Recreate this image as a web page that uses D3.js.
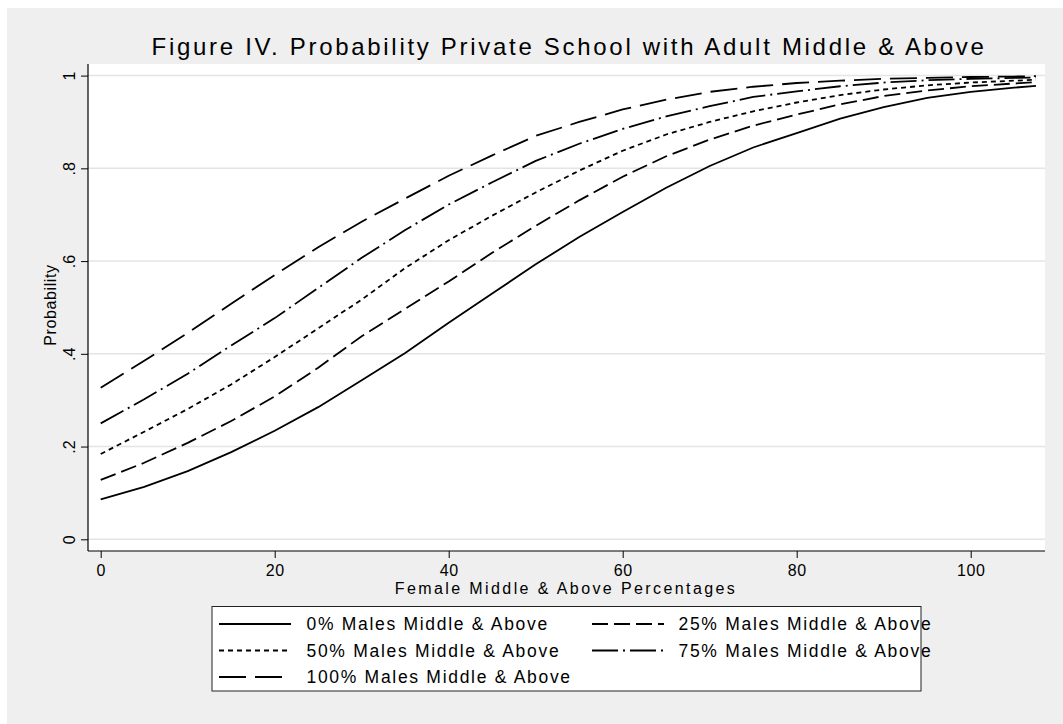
<!DOCTYPE html>
<html>
<head>
<meta charset="utf-8">
<script src="https://cdn.jsdelivr.net/npm/d3@7"></script>
<style>
  html, body { margin: 0; padding: 0; background: #ffffff; }
  svg { display: block; }
  text { font-family: "Liberation Sans", Arial, Helvetica, sans-serif; fill: #000; }
</style>
</head>
<body>
<svg id="chart" width="1063" height="724"></svg>
<script>
// Female middle & above percentage at which predictions were evaluated
const femalePct = [0, 5, 10, 15, 20, 25, 30, 35, 40, 45, 50, 55, 60, 65, 70, 75, 80, 85, 90, 95, 100, 105, 107.5];

// Predicted probability of private school, by share of males middle & above
const males0   = [0.086, 0.113, 0.147, 0.188, 0.234, 0.285, 0.343, 0.402, 0.467, 0.530, 0.593, 0.652, 0.706, 0.758, 0.805, 0.845, 0.876, 0.907, 0.932, 0.952, 0.965, 0.974, 0.978];
const males25  = [0.128, 0.165, 0.208, 0.255, 0.308, 0.370, 0.438, 0.497, 0.556, 0.618, 0.676, 0.731, 0.782, 0.826, 0.862, 0.892, 0.916, 0.938, 0.956, 0.968, 0.977, 0.983, 0.986];
const males50  = [0.184, 0.232, 0.281, 0.334, 0.393, 0.455, 0.517, 0.585, 0.645, 0.698, 0.748, 0.795, 0.838, 0.873, 0.900, 0.923, 0.942, 0.958, 0.970, 0.979, 0.985, 0.989, 0.991];
const males75  = [0.250, 0.302, 0.357, 0.418, 0.477, 0.542, 0.607, 0.667, 0.722, 0.770, 0.816, 0.853, 0.885, 0.912, 0.934, 0.954, 0.966, 0.977, 0.985, 0.990, 0.993, 0.995, 0.996];
const males100 = [0.327, 0.385, 0.445, 0.508, 0.570, 0.630, 0.685, 0.735, 0.784, 0.828, 0.870, 0.900, 0.927, 0.948, 0.965, 0.976, 0.984, 0.989, 0.993, 0.995, 0.997, 0.998, 0.999];

const seriesNames = ["0% Males Middle & Above", "25% Males Middle & Above", "50% Males Middle & Above",
                     "75% Males Middle & Above", "100% Males Middle & Above"];
const seriesValues = [males0, males25, males50, males75, males100];
const seriesDash = [null, "16,6", "5,4", "26,5,2,5", "27,9"];

const xTicks = [0, 20, 40, 60, 80, 100];
const yTicks = [0, 0.2, 0.4, 0.6, 0.8, 1];
const yTickLabels = ["0", ".2", ".4", ".6", ".8", "1"];

const titleText = "Figure IV. Probability Private School with Adult Middle & Above";
const xTitle = "Female Middle & Above Percentages";
const yTitle = "Probability";

const svg = d3.select("#chart");

// graph background
svg.append("rect").attr("x", 7).attr("y", 8).attr("width", 1056).attr("height", 716).attr("fill", "#efefef");

// plot region
const plot = { left: 88, right: 1045, top: 64, bottom: 551 };
svg.append("rect")
  .attr("x", plot.left).attr("y", plot.top)
  .attr("width", plot.right - plot.left).attr("height", plot.bottom - plot.top)
  .attr("fill", "#ffffff");

const x = d3.scaleLinear().domain([0, 100]).range([100.7, 970.7]);
const y = d3.scaleLinear().domain([0, 1]).range([539.3, 75.6]);

// horizontal grid
svg.append("g").selectAll("line").data(yTicks).join("line")
  .attr("x1", plot.left).attr("x2", plot.right)
  .attr("y1", d => y(d)).attr("y2", d => y(d))
  .attr("stroke", "#e4e4e4").attr("stroke-width", 1.5);

// y axis, labels turned to read upward
const yAxis = svg.append("g").attr("transform", `translate(${plot.left},0)`)
  .call(d3.axisLeft(y).tickValues(yTicks).tickSize(7).tickPadding(8)
    .tickFormat((d, i) => yTickLabels[i]));
yAxis.select(".domain").remove();
yAxis.selectAll(".tick line").attr("stroke", "#000");
yAxis.selectAll(".tick text")
  .attr("font-size", 16)
  .attr("transform", "rotate(-90)")
  .attr("x", 0).attr("y", -13).attr("dy", null)
  .attr("text-anchor", "middle");
svg.append("line").attr("x1", plot.left).attr("x2", plot.left)
  .attr("y1", plot.top).attr("y2", plot.bottom).attr("stroke", "#000").attr("stroke-width", 1.2);

// x axis
const xAxis = svg.append("g").attr("transform", `translate(0,${plot.bottom})`)
  .call(d3.axisBottom(x).tickValues(xTicks).tickSize(7).tickPadding(7).tickFormat(d3.format("d")));
xAxis.select(".domain").remove();
xAxis.selectAll(".tick line").attr("stroke", "#000");
xAxis.selectAll(".tick text").attr("font-size", 16).attr("letter-spacing", 0.5);
svg.append("line").attr("x1", plot.left).attr("x2", plot.right)
  .attr("y1", plot.bottom).attr("y2", plot.bottom).attr("stroke", "#000").attr("stroke-width", 1.2);

// curves
const line = d3.line().x((d, i) => x(femalePct[i])).y(d => y(d));
svg.append("g").selectAll("path").data(seriesValues).join("path")
  .attr("d", d => line(d))
  .attr("fill", "none")
  .attr("stroke", "#000")
  .attr("stroke-width", 1.8)
  .attr("stroke-dasharray", (d, i) => seriesDash[i]);

// titles
svg.append("text").attr("x", 569).attr("y", 55).attr("text-anchor", "middle")
  .attr("font-size", 24).attr("letter-spacing", 2.7).text(titleText);
svg.append("text").attr("x", 566).attr("y", 594).attr("text-anchor", "middle")
  .attr("font-size", 16).attr("letter-spacing", 2.4).text(xTitle);
svg.append("text").attr("transform", "translate(56,305) rotate(-90)").attr("text-anchor", "middle")
  .attr("font-size", 16).attr("letter-spacing", 0.6).text(yTitle);

// legend
const legend = svg.append("g");
legend.append("rect").attr("x", 212).attr("y", 606.5).attr("width", 709).attr("height", 84.5)
  .attr("fill", "#ffffff").attr("stroke", "#222").attr("stroke-width", 1);
const colX = [219, 592];
const labelX = [306.5, 678.5];
const rowY = [630, 656.5, 683];
const items = legend.selectAll("g.item").data(seriesNames).join("g").attr("class", "item")
  .attr("transform", (d, i) => `translate(0,${rowY[Math.floor(i / 2)]})`);
items.append("line")
  .attr("x1", (d, i) => colX[i % 2]).attr("x2", (d, i) => colX[i % 2] + 72)
  .attr("y1", -6).attr("y2", -6)
  .attr("stroke", "#000").attr("stroke-width", 1.8)
  .attr("stroke-dasharray", (d, i) => seriesDash[i]);
items.append("text")
  .attr("x", (d, i) => labelX[i % 2]).attr("y", 0)
  .attr("font-size", 17.5).attr("letter-spacing", 1.7)
  .text(d => d);
</script>
</body>
</html>
